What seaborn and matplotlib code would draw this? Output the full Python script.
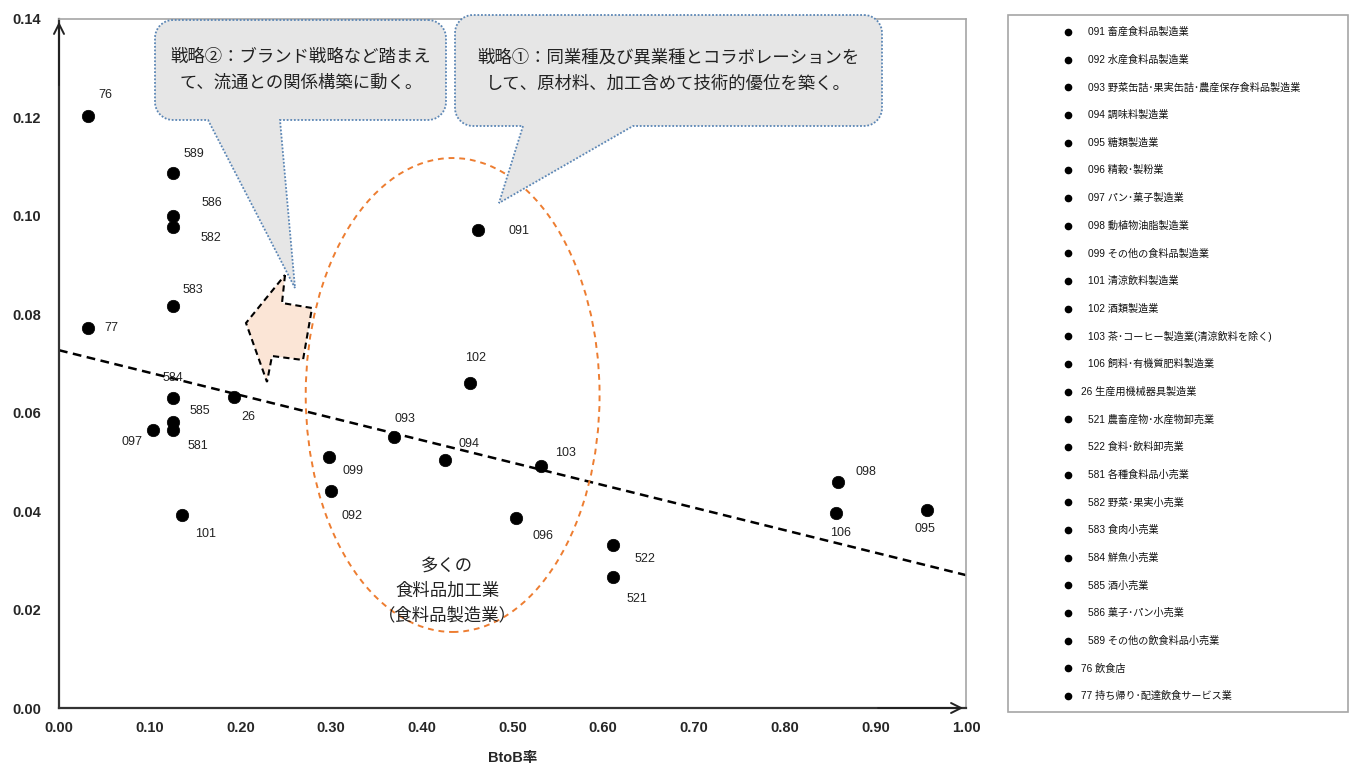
import numpy as np
import pandas as pd
import matplotlib
matplotlib.use("Agg")
import matplotlib.pyplot as plt
import seaborn as sns
from matplotlib.patches import Polygon, Ellipse, Rectangle

# ---- data -------------------------------------------------------------
codes = ["091", "092", "093", "094", "095", "096", "097", "098", "099",
         "101", "102", "103", "106", "26", "521", "522", "581", "582",
         "583", "584", "585", "586", "589", "76", "77"]
names = ["畜産食料品製造業", "水産食料品製造業",
         "野菜缶詰･果実缶詰･農産保存食料品製造業", "調味料製造業",
         "糖類製造業", "精穀･製粉業", "パン･菓子製造業", "動植物油脂製造業",
         "その他の食料品製造業", "清涼飲料製造業", "酒類製造業",
         "茶･コーヒー製造業(清涼飲料を除く)", "飼料･有機質肥料製造業",
         "生産用機械器具製造業", "農畜産物･水産物卸売業", "食料･飲料卸売業",
         "各種食料品小売業", "野菜･果実小売業", "食肉小売業", "鮮魚小売業",
         "酒小売業", "菓子･パン小売業", "その他の飲食料品小売業", "飲食店",
         "持ち帰り･配達飲食サービス業"]
btob = [0.462, 0.300, 0.369, 0.426, 0.957, 0.504, 0.104, 0.859, 0.298,
        0.136, 0.453, 0.531, 0.857, 0.193, 0.611, 0.611, 0.126, 0.126,
        0.126, 0.126, 0.126, 0.126, 0.126, 0.032, 0.032]
ratio = [0.0971, 0.0441, 0.0551, 0.0504, 0.0402, 0.0386, 0.0565, 0.0459,
         0.0510, 0.0392, 0.0660, 0.0492, 0.0396, 0.0632, 0.0266, 0.0331,
         0.0565, 0.0977, 0.0817, 0.0630, 0.0581, 0.1000, 0.1087, 0.1203,
         0.0772]

# linear trend line (value at BtoB率 = 0 and 1)
trend_x = [0.0, 1.0]
trend_y = [0.0727, 0.0270]

x_ticks = [0.0, 0.1, 0.2, 0.3, 0.4, 0.5, 0.6, 0.7, 0.8, 0.9, 1.0]
y_ticks = [0.0, 0.02, 0.04, 0.06, 0.08, 0.10, 0.12, 0.14]

# label offsets in pixels (dx, dy upward)
label_offsets = {
    "091": (41, -1), "092": (21, -25), "093": (11, 18), "094": (24, 16),
    "095": (-2, -19), "096": (27, -18), "097": (-21, -12), "098": (28, 10),
    "099": (24, -14), "101": (23, -19), "102": (6, 25), "103": (25, 13),
    "106": (4, -20), "26": (14, -20), "521": (24, -22), "522": (32, -14),
    "581": (25, -16), "582": (38, -11), "583": (20, 16), "584": (0, 20),
    "585": (27, 11), "586": (39, 13), "589": (21, 19), "76": (17, 21),
    "77": (23, 0),
}

df = pd.DataFrame({"code": codes, "name": names, "x": btob, "y": ratio})
trend = pd.DataFrame({"x": trend_x, "y": trend_y})

# ---- figure -----------------------------------------------------------
W, H = 1350, 764
sns.set_theme(style="white")
plt.rcParams["font.family"] = ["Liberation Sans", "Noto Sans CJK JP", "DejaVu Sans"]
jp = ["Noto Sans CJK JP", "DejaVu Sans"]

fig = plt.figure(figsize=(W / 100, H / 100), dpi=100)
ax = fig.add_axes([59 / W, 1 - 708 / H, (966 - 59) / W, (708 - 19) / H])


def fp(px, py):
    return (px / W, 1 - py / H)


sns.lineplot(data=trend, x="x", y="y", ax=ax, color="black", lw=1.8,
             ls=(0, (3.5, 2.2)), zorder=2)

sns.scatterplot(data=df, x="x", y="y", color="black", s=80,
                edgecolor="black", linewidth=0.5, legend=False, ax=ax,
                zorder=4)

for c, xv, yv in zip(codes, btob, ratio):
    dx, dy = label_offsets[c]
    ax.annotate(c, (xv, yv), xytext=(dx, dy), textcoords="offset pixels",
                ha="center", va="center", fontsize=9, color="#222222",
                zorder=5)

ax.set_xlim(0, 1.0)
ax.set_ylim(0, 0.14)

# axes styling
ax.set_xticks(x_ticks)
ax.set_yticks(y_ticks)
ax.set_xticklabels([f"{v:.2f}" for v in x_ticks], fontweight="bold",
                   fontsize=10.5)
ax.set_yticklabels([f"{v:.2f}" for v in y_ticks], fontweight="bold",
                   fontsize=10.5)
ax.tick_params(axis="x", direction="inout", length=8, width=1,
               color="#333333", pad=5)
ax.tick_params(axis="y", direction="out", length=5, width=1,
               color="#333333", pad=8)
for s in ["top", "right"]:
    ax.spines[s].set_color("#A6A6A6")
    ax.spines[s].set_linewidth(1.2)
for s in ["left", "bottom"]:
    ax.spines[s].set_color("#333333")
    ax.spines[s].set_linewidth(1.6)
ax.annotate("", xy=(0, 1), xytext=(0, 0.9), xycoords="axes fraction",
            arrowprops=dict(arrowstyle="->", color="#222222", lw=1.4,
                            mutation_scale=18), annotation_clip=False)
ax.annotate("", xy=(1, 0), xytext=(0.9, 0), xycoords="axes fraction",
            arrowprops=dict(arrowstyle="->", color="#222222", lw=1.4,
                            mutation_scale=18), annotation_clip=False)
ax.set_xlabel("BtoB率", fontweight="bold", fontsize=10.5, labelpad=12,
              family=["Liberation Sans", "Noto Sans CJK JP"])
ax.set_ylabel("")

# ellipse around the food processing cluster
ax.add_patch(Ellipse((0.434, 0.0636), 0.324, 0.0963, fill=False,
                     edgecolor="#ED7D31", lw=1.4, ls=(0, (3, 2.5)), zorder=3))
fig.text(*fp(447, 591), "多くの\n食料品加工業\n（食料品製造業）", ha="center",
         va="center", fontsize=12.5, family=jp, linespacing=1.45,
         color="#222222")


def callout(x0, y0, x1, y1, r, tb0, tb1, tip):
    pts = []

    def arc(cx, cy, a0, a1):
        for t in np.linspace(np.radians(a0), np.radians(a1), 12):
            pts.append((cx + r * np.cos(t), cy + r * np.sin(t)))

    arc(x1 - r, y0 + r, -90, 0)
    arc(x1 - r, y1 - r, 0, 90)
    pts.append((tb1, y1))
    pts.append(tip)
    pts.append((tb0, y1))
    arc(x0 + r, y1 - r, 90, 180)
    arc(x0 + r, y0 + r, 180, 270)
    poly = Polygon([fp(*p) for p in pts], closed=True,
                   transform=fig.transFigure, facecolor="#E6E6E6",
                   edgecolor="#5B86B5", lw=1.3, ls=(0, (1, 1)), zorder=6)
    fig.add_artist(poly)


callout(155, 20, 446, 120, 18, 208, 280, (295, 288))
fig.text(*fp(301, 70), "戦略②：ブランド戦略など踏まえ\nて、流通との関係構築に動く。",
         ha="center", va="center", fontsize=12.5, family=jp,
         linespacing=1.6, color="#222222", zorder=7)

callout(455, 15, 882, 126, 18, 523, 633, (499, 203))
fig.text(*fp(668, 71), "戦略①：同業種及び異業種とコラボレーションを\nして、原材料、加工含めて技術的優位を築く。",
         ha="center", va="center", fontsize=12.5, family=jp,
         linespacing=1.6, color="#222222", zorder=7)

# block arrow pointing towards the low-BtoB retail group
arrow_px = [(285, 275), (282, 303), (312, 308), (303, 360), (272, 356),
            (267, 382), (246, 323)]
fig.add_artist(Polygon([fp(*p) for p in arrow_px], closed=True,
                       transform=fig.transFigure, facecolor="#FBE5D6",
                       edgecolor="black", lw=1.5, ls=(0, (3, 2)), zorder=8))

# legend panel
fig.add_artist(Rectangle(fp(1008, 712), (1348 - 1008) / W, (712 - 15) / H,
                         transform=fig.transFigure, fill=False,
                         edgecolor="#A6A6A6", lw=1.2))
row_y = np.linspace(32, 696, len(codes))
for c, n, ry in zip(codes, names, row_y):
    tx = 1081 if c in ("26", "76", "77") else 1088
    fig.add_artist(plt.Line2D([1068 / W], [1 - ry / H], marker="o",
                              markersize=4.5, color="black",
                              transform=fig.transFigure))
    fig.text(tx / W, 1 - ry / H, f"{c} {n}", ha="left", va="center",
             fontsize=7.3, family=["Liberation Sans", "Noto Sans CJK JP"],
             color="#111111")

fig.savefig("out.png", dpi=100)
